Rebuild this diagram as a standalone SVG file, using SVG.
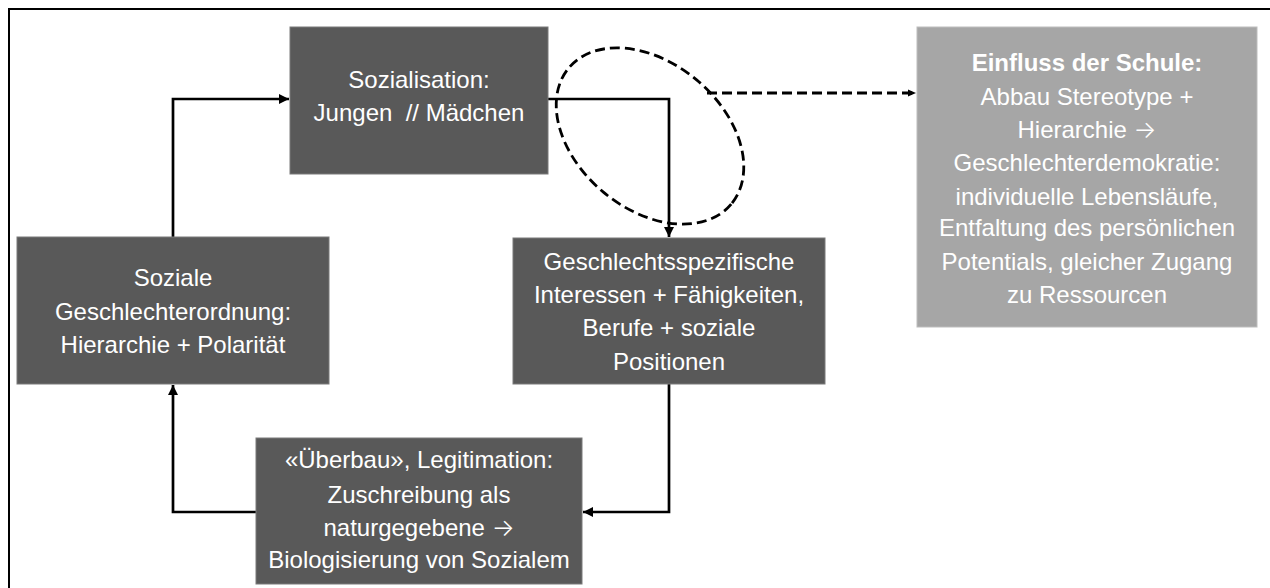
<svg xmlns="http://www.w3.org/2000/svg" width="1270" height="588" viewBox="0 0 1270 588">
<style>
.frame{fill:none;stroke:#000;stroke-width:2}
.box{fill:#595959;stroke:#7a7a7a;stroke-width:1}
.box5{fill:#a6a6a6;stroke:#bdbdbd;stroke-width:1}
.t{font-family:"Liberation Sans",Arial,sans-serif;font-size:24px;fill:#fff;text-anchor:middle}
.b{font-weight:bold}
.ar{font-family:Inter,"DejaVu Sans",sans-serif;font-weight:300}
.line{fill:none;stroke:#000;stroke-width:2.7}
.dash{fill:none;stroke:#000;stroke-width:2.8;stroke-dasharray:10 5}
</style>
<defs>
<marker id="ah" markerUnits="userSpaceOnUse" markerWidth="12" markerHeight="10" refX="10" refY="5" orient="auto">
<path d="M0,0 L10,5 L0,10 Z" fill="#000"/>
</marker>
<marker id="ahs" markerUnits="userSpaceOnUse" markerWidth="10" markerHeight="8" refX="8" refY="4" orient="auto">
<path d="M0,0.5 L8,4 L0,7.5 Z" fill="#000"/>
</marker>
</defs>
<rect width="1270" height="588" fill="#fff"/>
<rect class="frame" x="9" y="9" width="1300" height="600"/>

<g id="connectors">
<path class="line" d="M173,237 L173,99 L289,99" marker-end="url(#ah)"/>
<path class="line" d="M548,99 L669,99 L669,237" marker-end="url(#ah)"/>
<path class="line" d="M669,384 L669,512 L583,512" marker-end="url(#ah)"/>
<path class="line" d="M256,512 L173,512 L173,385" marker-end="url(#ah)"/>
<ellipse class="dash" cx="650" cy="136" rx="106" ry="73" transform="rotate(40 650 136)"/>
<path class="dash" d="M707,93 L916,93" marker-end="url(#ahs)"/>
</g>

<g id="node-sozialisation">
<rect class="box" x="290" y="27" width="258" height="147"/>
<text class="t" x="419" y="88">Sozialisation:</text>
<text class="t" x="419" y="121" xml:space="preserve">Jungen  // Mädchen</text>
</g>

<g id="node-geschlechterordnung">
<rect class="box" x="17" y="237" width="312" height="147"/>
<text class="t" x="173" y="286">Soziale</text>
<text class="t" x="173" y="320">Geschlechterordnung:</text>
<text class="t" x="173" y="353">Hierarchie + Polarität</text>
</g>

<g id="node-interessen">
<rect class="box" x="513" y="238" width="312" height="146"/>
<text class="t" x="669" y="270">Geschlechtsspezifische</text>
<text class="t" x="669" y="303">Interessen + Fähigkeiten,</text>
<text class="t" x="669" y="336">Berufe + soziale</text>
<text class="t" x="669" y="370">Positionen</text>
</g>

<g id="node-ueberbau">
<rect class="box" x="256" y="438" width="326" height="146"/>
<text class="t" x="419" y="468">«Überbau», Legitimation:</text>
<text class="t" x="419" y="503">Zuschreibung als</text>
<text class="t" x="419" y="536">naturgegebene <tspan class="ar">→</tspan></text>
<text class="t" x="419" y="568">Biologisierung von Sozialem</text>
</g>

<g id="node-schule">
<rect class="box5" x="917" y="27" width="340" height="300"/>
<text class="t b" x="1087" y="71">Einfluss der Schule:</text>
<text class="t" x="1087" y="105">Abbau Stereotype +</text>
<text class="t" x="1087" y="138">Hierarchie <tspan class="ar">→</tspan></text>
<text class="t" x="1087" y="171">Geschlechterdemokratie:</text>
<text class="t" x="1087" y="205">individuelle Lebensläufe,</text>
<text class="t" x="1087" y="236">Entfaltung des persönlichen</text>
<text class="t" x="1087" y="270">Potentials, gleicher Zugang</text>
<text class="t" x="1087" y="303">zu Ressourcen</text>
</g>
</svg>
